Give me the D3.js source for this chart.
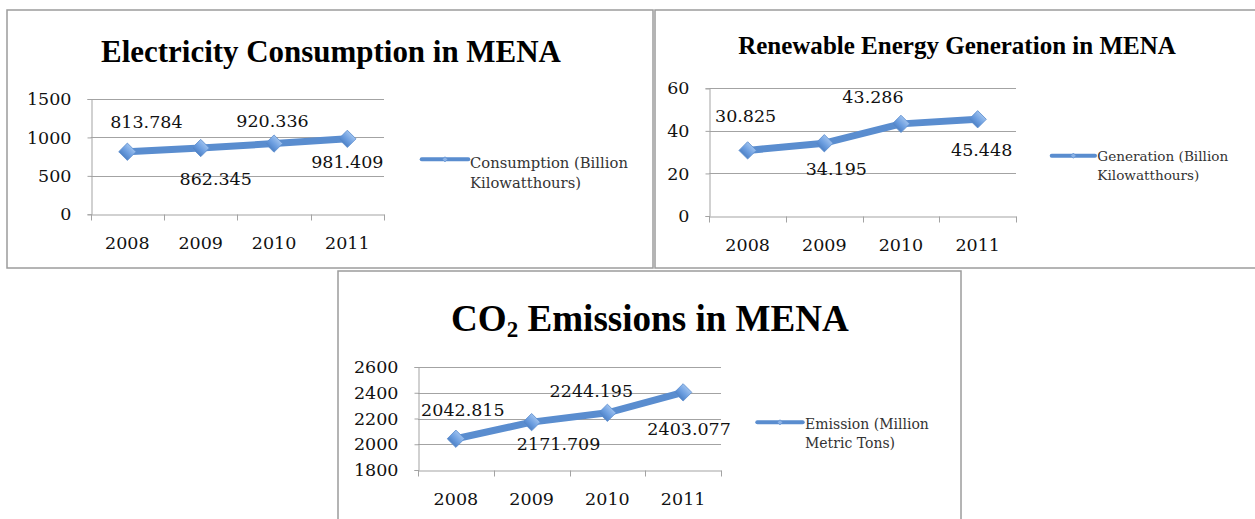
<!DOCTYPE html>
<html><head><meta charset="utf-8">
<script src="https://cdn.jsdelivr.net/npm/d3@7"></script>
<style>body{margin:0;background:#fff}svg{display:block}</style>
</head><body><svg id="c" width="1255" height="519"></svg>
<script>
// ---------- data ----------
const years = ["2008", "2009", "2010", "2011"];
const consumption = [813.784, 862.345, 920.336, 981.409];
const generation = [30.825, 34.195, 43.286, 45.448];
const emissions = [2042.815, 2171.709, 2244.195, 2403.077];
const consumptionTicks = [0, 500, 1000, 1500];
const generationTicks = [0, 20, 40, 60];
const emissionTicks = [1800, 2000, 2200, 2400, 2600];
const titleTexts = ["Electricity Consumption in MENA", "Renewable Energy Generation in MENA", "CO2 Emissions in MENA"];
const legendConsumption = ["Consumption (Billion", "Kilowatthours)"];
const legendGeneration = ["Generation (Billion", "Kilowatthours)"];
const legendEmission = ["Emission (Million", "Metric Tons)"];

// ---------- layout ----------
const panels = [
  { values: consumption, ticks: consumptionTicks, domain: [0, 1500], title: titleTexts[0], legend: legendConsumption,
    frame: [7, 10, 646, 258], plot: { x0: 90.7, x1: 384, y0: 99, y1: 214.3 },
    offsets: [[19, -30], [15, 31], [-1.5, -22.6], [0, 23]],
    titlePos: { cx: 331, y: 62, w: 460 },
    leg: { x0: 421.7, x1: 468.3, y: 159.3, tx: 470, ty: [162.5, 182.5], w: 158 } },
  { values: generation, ticks: generationTicks, domain: [0, 60], title: titleTexts[1], legend: legendGeneration,
    frame: [655, 10, 610, 258], plot: { x0: 709.3, x1: 1016, y0: 88.3, y1: 216 },
    offsets: [[-2, -34.4], [12, 25], [-28, -27.6], [4, 30]],
    titlePos: { cx: 957, y: 54, w: 438 },
    leg: { x0: 1051.7, x1: 1095, y: 155.7, tx: 1097.3, ty: [156.3, 174.7], w: 131 } },
  { values: emissions, ticks: emissionTicks, domain: [1800, 2600], title: titleTexts[2], legend: legendEmission,
    frame: [338, 271, 623, 260], plot: { x0: 418, x1: 721, y0: 367, y1: 470 },
    offsets: [[7, -29], [27, 22], [-16, -22], [6, 36]],
    titlePos: { cx: 650, y: 331, w: 398 }, co2: true,
    leg: { x0: 757.3, x1: 802.7, y: 422.3, tx: 805, ty: [423.8, 443.3], w: 124 } }
];

const svg = d3.select("#c");
const defs = svg.append("defs");
const grad = defs.append("linearGradient").attr("id", "dg").attr("x1", 0).attr("y1", 0).attr("x2", 0).attr("y2", 1);
grad.append("stop").attr("offset", "0%").attr("stop-color", "#9cc0ee");
grad.append("stop").attr("offset", "55%").attr("stop-color", "#6c9ee0");
grad.append("stop").attr("offset", "100%").attr("stop-color", "#4f82c6");

const GRID = "#a3a3a3", TEXT = "#111", LINE = "#5a8dcf";
const fmt = d3.format(".3f");

function fit(sel, w) {
  const base = parseFloat(sel.attr("font-size"));
  const len = sel.node().getComputedTextLength();
  sel.attr("font-size", (base * w / len).toFixed(2));
}

panels.forEach(p => {
  const g = svg.append("g");
  // frame
  g.append("rect").attr("x", p.frame[0]).attr("y", p.frame[1]).attr("width", p.frame[2]).attr("height", p.frame[3])
    .attr("fill", "#fff").attr("stroke", "#9c9c9c").attr("stroke-width", 1.5);

  const x = d3.scaleBand().domain(years).range([p.plot.x0, p.plot.x1]).padding(0);
  const y = d3.scaleLinear().domain(p.domain).range([p.plot.y1, p.plot.y0]);

  // gridlines
  g.append("g").selectAll("line").data(p.ticks.slice(1)).join("line")
    .attr("x1", p.plot.x0).attr("x2", p.plot.x1)
    .attr("y1", d => Math.round(y(d)) + 0.5).attr("y2", d => Math.round(y(d)) + 0.5)
    .attr("stroke", GRID).attr("stroke-width", 1);

  // y axis
  const ya = g.append("g").attr("transform", `translate(${Math.round(p.plot.x0) + 0.5},0)`)
    .call(d3.axisLeft(y).tickValues(p.ticks).tickSize(4).tickPadding(16).tickFormat(d3.format("d")));
  ya.select(".domain").attr("stroke", GRID);
  ya.selectAll(".tick line").attr("stroke", GRID);
  ya.selectAll(".tick text").attr("font-family", "DejaVu Serif").attr("font-size", 17.5).attr("fill", TEXT);
  ya.attr("font-family", null);

  // x axis
  const xa = g.append("g").attr("transform", `translate(0,${Math.round(p.plot.y1) + 0.5})`)
    .call(d3.axisBottom(x).tickSize(0).tickPadding(22));
  xa.select(".domain").attr("stroke", GRID);
  xa.selectAll(".tick text").attr("font-family", "DejaVu Serif").attr("font-size", 17.5).attr("fill", TEXT);
  const bounds = years.map(d => x(d)).concat([x(years[years.length - 1]) + x.bandwidth()]);
  xa.selectAll(".bt").data(bounds).join("line").attr("class", "bt")
    .attr("x1", d => Math.round(d) + 0.5).attr("x2", d => Math.round(d) + 0.5)
    .attr("y1", 0).attr("y2", 6).attr("stroke", GRID);

  // line
  const pts = years.map((yr, i) => [x(yr) + x.bandwidth() / 2, y(p.values[i])]);
  g.append("path").attr("d", d3.line()(pts)).attr("fill", "none")
    .attr("stroke", LINE).attr("stroke-width", 7).attr("stroke-linejoin", "round");
  const sym = d3.symbol(d3.symbolSquare, 150);
  g.selectAll(".mk").data(pts).join("path").attr("class", "mk")
    .attr("d", sym).attr("transform", d => `translate(${d[0]},${d[1]}) rotate(45)`)
    .attr("fill", "url(#dg)").attr("stroke", "#5f8fcf").attr("stroke-width", 0.8);

  // data labels
  g.selectAll(".dl").data(pts).join("text").attr("class", "dl")
    .attr("x", (d, i) => d[0] + p.offsets[i][0]).attr("y", (d, i) => d[1] + p.offsets[i][1])
    .attr("dy", "0.36em").attr("text-anchor", "middle")
    .attr("font-family", "DejaVu Serif").attr("font-size", 17.5).attr("fill", TEXT)
    .text((d, i) => fmt(p.values[i]));

  // title
  const t = g.append("text").attr("x", p.titlePos.cx).attr("y", p.titlePos.y).attr("text-anchor", "middle")
    .attr("font-family", "Liberation Serif").attr("font-weight", "bold").attr("font-size", 26).attr("fill", "#000");
  if (p.co2) {
    t.append("tspan").text("CO");
    t.append("tspan").attr("font-size", "0.62em").attr("dy", "0.28em").text("2");
    t.append("tspan").attr("dy", "-0.17em").text(p.title.replace("CO2", ""));
  } else {
    t.text(p.title);
  }
  fit(t, p.titlePos.w);

  // legend
  g.append("line").attr("x1", p.leg.x0).attr("x2", p.leg.x1).attr("y1", p.leg.y).attr("y2", p.leg.y)
    .attr("stroke", LINE).attr("stroke-width", 4).attr("stroke-linecap", "round");
  g.append("path").attr("d", d3.symbol(d3.symbolSquare, 14)())
    .attr("transform", `translate(${(p.leg.x0 + p.leg.x1) / 2},${p.leg.y}) rotate(45)`)
    .attr("fill", "#8ab2e6").attr("stroke", "#5f8fcf").attr("stroke-width", 0.6);
  const l1 = g.append("text").attr("x", p.leg.tx).attr("y", p.leg.ty[0]).attr("dy", "0.36em")
    .attr("font-family", "DejaVu Serif").attr("font-size", 13).attr("fill", "#333").text(p.legend[0]);
  fit(l1, p.leg.w);
  g.append("text").attr("x", p.leg.tx).attr("y", p.leg.ty[1]).attr("dy", "0.36em")
    .attr("font-family", "DejaVu Serif").attr("font-size", l1.attr("font-size")).attr("fill", "#333").text(p.legend[1]);
});
</script>
</body></html>
